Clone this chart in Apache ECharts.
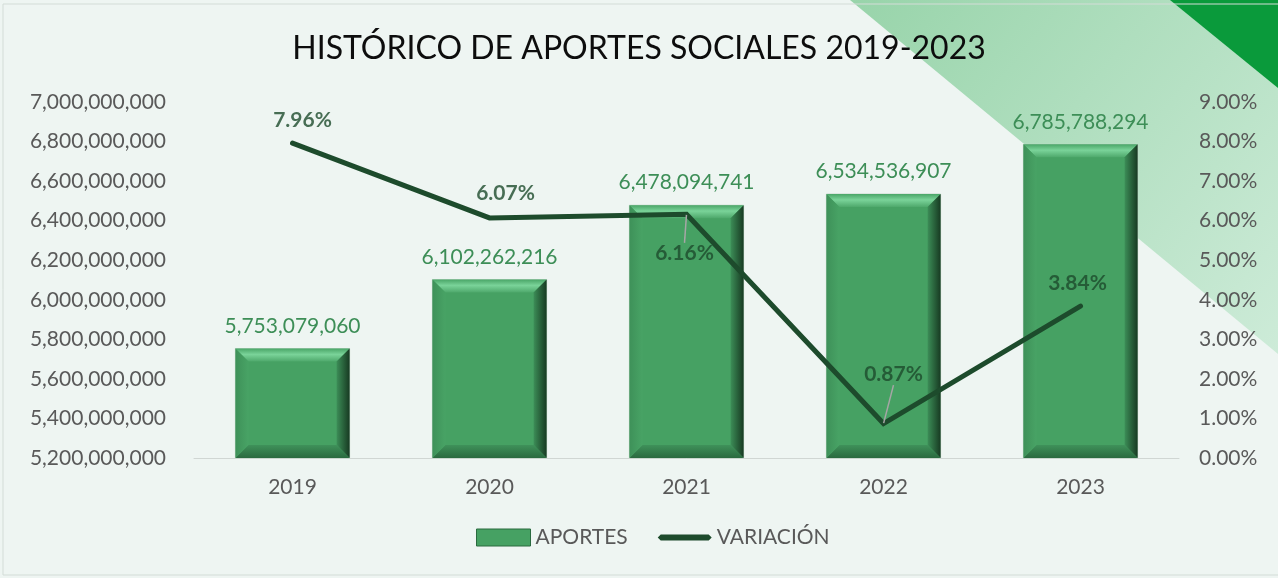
<!DOCTYPE html>
<html><head><meta charset="utf-8">
<script src="https://cdn.jsdelivr.net/npm/echarts@6/dist/echarts.min.js"></script>
<style>html,body{margin:0;padding:0;background:#eef5f2}#c{width:1278px;height:578px}</style>
</head><body><div id="c"></div>
<script>
var categories = ['2019', '2020', '2021', '2022', '2023'];
var aportes = [5753079060, 6102262216, 6478094741, 6534536907, 6785788294];
var variacion = [0.0796, 0.0607, 0.0616, 0.0087, 0.0384];
var variacionLabels = ['7.96%', '6.07%', '6.16%', '0.87%', '3.84%'];
var titleText = 'HISTÓRICO DE APORTES SOCIALES 2019-2023';

var FONT = 'Lato';
var fmtNum = function (v) { return Number(v).toLocaleString('en-US'); };
var labelShift = [[10, -23], [16, -25], [-2, 39], [10, -49], [-3, -23]];
var withLeader = [false, false, true, true, false];

var chart = echarts.init(document.getElementById('c'), null, {renderer: 'canvas'});

var BASE = 5200000000;
function bevelItem(params, api) {
  var idx = api.value(0);
  var top = api.coord([idx, api.value(1)]);
  var bot = api.coord([idx, BASE]);
  var w = api.size([1, 0])[0] * 0.58;
  var x0 = top[0] - w / 2, x1 = top[0] + w / 2, y0 = top[1], y1 = bot[1];
  var d = 13;
  return {
    type: 'group',
    children: [
      {type: 'rect', shape: {x: x0, y: y0, width: w, height: y1 - y0},
        style: {fill: '#46a163', stroke: '#c2d6c8', lineWidth: 1}},
      {type: 'polygon', shape: {points: [[x0, y0], [x1, y0], [x1 - d, y0 + d], [x0 + d, y0 + d]]},
        style: {fill: new echarts.graphic.LinearGradient(0, 0, 0, 1, [{offset: 0, color: '#4aa668'}, {offset: 0.45, color: '#7ad399'}, {offset: 1, color: '#4ea86b'}])}},
      {type: 'polygon', shape: {points: [[x1, y0], [x1, y1], [x1 - d, y1 - d], [x1 - d, y0 + d]]},
        style: {fill: new echarts.graphic.LinearGradient(0, 0, 1, 0, [{offset: 0, color: '#3c8d57'}, {offset: 1, color: '#173a22'}])}},
      {type: 'polygon', shape: {points: [[x0, y1], [x1, y1], [x1 - d, y1 - d], [x0 + d, y1 - d]]},
        style: {fill: new echarts.graphic.LinearGradient(0, 0, 0, 1, [{offset: 0, color: '#3f915a'}, {offset: 1, color: '#2a6a3f'}])}},
      {type: 'polygon', shape: {points: [[x0, y0], [x0, y1], [x0 + d, y1 - d], [x0 + d, y0 + d]]},
        style: {fill: new echarts.graphic.LinearGradient(0, 0, 1, 0, [{offset: 0, color: '#3e9159'}, {offset: 1, color: '#48a365'}])}}
    ]
  };
}

var option = {
  backgroundColor: '#eef5f2',
  animation: false,
  graphic: [
    {type: 'polygon', z: -10, silent: true,
      shape: {points: [[850, 0], [1278, 0], [1278, 354]]},
      style: {fill: new echarts.graphic.LinearGradient(0, 0, 1, 1, [{offset: 0, color: '#98d4aa'}, {offset: 1, color: '#cdebd8'}])}},
    {type: 'polygon', z: -9, silent: true,
      shape: {points: [[1170, 0], [1278, 0], [1278, 88]]},
      style: {fill: '#0a9a3b'}},
    {type: 'rect', z: -8, silent: true,
      shape: {x: 3, y: 4, width: 1280, height: 571},
      style: {fill: null, stroke: '#d3dcd7', lineWidth: 1}}
  ],
  title: {
    text: titleText, left: 'center', top: 28,
    textStyle: {fontFamily: FONT, fontSize: 32, fontWeight: 'normal', color: '#0d0d0d'}
  },
  legend: {
    bottom: 25, left: 471, itemWidth: 54, itemHeight: 17, itemGap: 30,
    textStyle: {fontFamily: FONT, fontSize: 21, color: '#595959'},
    data: [
      {name: 'APORTES', icon: 'rect', itemStyle: {color: '#46a163', borderColor: '#2a6a3f', borderWidth: 1}},
      {name: 'VARIACIÓN', icon: 'path://M0,0 L0,0.01 M0,17 L0,17.01 M3,5.5 L51,5.5 L54,8.5 L51,11.5 L3,11.5 L0,8.5 Z',
        itemStyle: {color: '#1d4b2c', borderWidth: 0}}
    ]
  },
  grid: {left: 194, right: 99, top: 102, bottom: 120},
  xAxis: {
    type: 'category', data: categories,
    axisLine: {lineStyle: {color: '#d0d6d3', width: 1}},
    axisTick: {show: false},
    axisLabel: {fontFamily: FONT, fontSize: 21, color: '#595959', margin: 19}
  },
  yAxis: [
    {type: 'value', min: 5200000000, max: 7000000000, interval: 200000000,
      splitLine: {show: false}, axisLine: {show: false}, axisTick: {show: false},
      axisLabel: {fontFamily: FONT, fontSize: 21, color: '#595959', margin: 28, formatter: fmtNum}},
    {type: 'value', min: 0, max: 0.09, interval: 0.01,
      splitLine: {show: false}, axisLine: {show: false}, axisTick: {show: false},
      axisLabel: {fontFamily: FONT, fontSize: 21, color: '#595959', margin: 20,
        formatter: function (v) { return (v * 100).toFixed(2) + '%'; }}}
  ],
  series: [
    {
      name: 'APORTES', type: 'bar', data: aportes, barWidth: '58%', z: 2,
      itemStyle: {color: '#46a163'},
      label: {show: true, position: 'top', distance: 12, fontFamily: FONT, fontSize: 21, color: '#3d8e57',
        formatter: function (p) { return fmtNum(p.value); }}
    },
    {
      name: 'APORTES_bevel', type: 'custom', z: 3, silent: true,
      renderItem: bevelItem,
      encode: {x: 0, y: 1},
      data: aportes.map(function (v, i) { return [i, v]; })
    },
    {
      name: 'VARIACIÓN', type: 'line', yAxisIndex: 1, z: 5,
      symbol: 'none', lineStyle: {color: '#1d4b2c', width: 5, cap: 'round', join: 'miter'},
      itemStyle: {color: '#1d4b2c'},
      data: variacion
    },
    {
      name: 'VARIACIÓN_labels', type: 'scatter', yAxisIndex: 1, z: 6,
      symbol: 'circle', symbolSize: 1, itemStyle: {color: 'rgba(0,0,0,0)'},
      silent: true,
      data: variacion.map(function (v, i) {
        return {value: [i, v], labelLine: {show: withLeader[i]}};
      }),
      label: {show: true, position: 'inside', fontFamily: FONT, fontSize: 21, fontWeight: 'bold', color: '#1d4b2c',
        formatter: function (p) { return variacionLabels[p.dataIndex]; }},
      labelLine: {show: false, lineStyle: {color: '#a6a6a6', width: 1.5}},
      labelLayout: function (p) {
        var s = labelShift[p.dataIndex];
        return {dx: s[0], dy: s[1]};
      }
    }
  ]
};
chart.setOption(option);
</script>
</body></html>
